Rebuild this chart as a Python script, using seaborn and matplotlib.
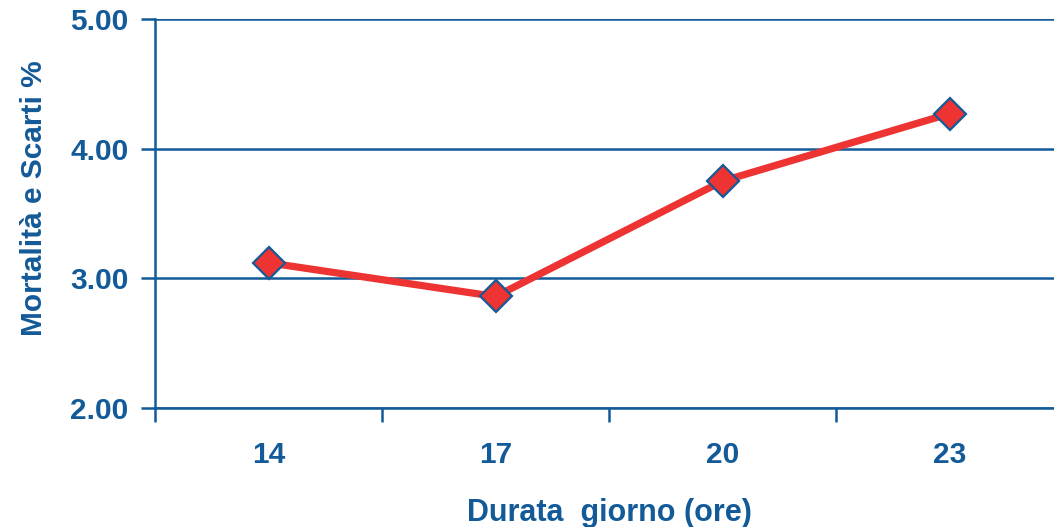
import matplotlib
matplotlib.use("Agg")
import matplotlib.pyplot as plt
from matplotlib.ticker import FixedLocator, NullFormatter
import seaborn as sns
import pandas as pd

# Day length (hours) and mortality + culls (%)
hours = ["14", "17", "20", "23"]
mortality = [3.12, 2.86, 3.75, 4.27]
y_ticks = [2.0, 3.0, 4.0, 5.0]

BLUE = "#135a98"
RED = "#ee3333"

sns.set_theme(style="white")
plt.rcParams["font.family"] = ["Liberation Sans", "DejaVu Sans"]
plt.rcParams["font.weight"] = "bold"

df = pd.DataFrame({"Durata giorno (ore)": hours, "Mortalità e Scarti %": mortality})

fig = plt.figure(figsize=(10.54, 5.27), dpi=100)
ax = fig.add_axes([0.1471, 0.2258, 0.8529, 0.7381])

sns.lineplot(data=df, x="Durata giorno (ore)", y="Mortalità e Scarti %", ax=ax,
             color=RED, linewidth=5.2, marker="D", markersize=16,
             markerfacecolor=RED, markeredgecolor=BLUE, markeredgewidth=1.6,
             sort=False, zorder=5)

ax.set_ylim(2.0, 5.0)
ax.set_xlim(-0.5, 3.46)

# horizontal gridlines
ax.set_yticks(y_ticks)
ax.set_yticklabels([f"{v:.2f}" for v in y_ticks])
ax.yaxis.grid(True, color=BLUE, linewidth=1.8)
ax.xaxis.grid(False)
ax.set_axisbelow(True)

# category labels without marks; separators as minor ticks
ax.set_xticks(range(len(hours)))
ax.set_xticklabels(hours)
ax.xaxis.set_minor_locator(FixedLocator([-0.5, 0.5, 1.5, 2.5]))
ax.xaxis.set_minor_formatter(NullFormatter())
ax.tick_params(axis="x", which="major", length=0, pad=24, labelsize=21.5, labelcolor=BLUE)
ax.tick_params(axis="x", which="minor", length=10, width=1.8, color=BLUE, bottom=True)
ax.tick_params(axis="y", which="major", length=10, width=1.8, color=BLUE, left=True,
               pad=9, labelsize=21.5, labelcolor=BLUE)

for lab in ax.get_xticklabels() + ax.get_yticklabels():
    lab.set_fontweight("bold")

for side in ["top", "right"]:
    ax.spines[side].set_visible(False)
for side in ["left", "bottom"]:
    ax.spines[side].set_color(BLUE)
    ax.spines[side].set_linewidth(1.8)
ax.spines["left"].set_bounds(2.0, 5.0)

ax.set_xlabel("Durata  giorno (ore)", fontsize=22, fontweight="bold", color=BLUE)
ax.set_ylabel("Mortalità e Scarti %", fontsize=21.5, fontweight="bold", color=BLUE)
ax.xaxis.set_label_coords(0.505, -0.27)
ax.xaxis.label.set_verticalalignment("center")
ax.yaxis.set_label_coords(-0.1346, 0.5386)
ax.yaxis.label.set_verticalalignment("center")

fig.savefig("out.png", dpi=100)
